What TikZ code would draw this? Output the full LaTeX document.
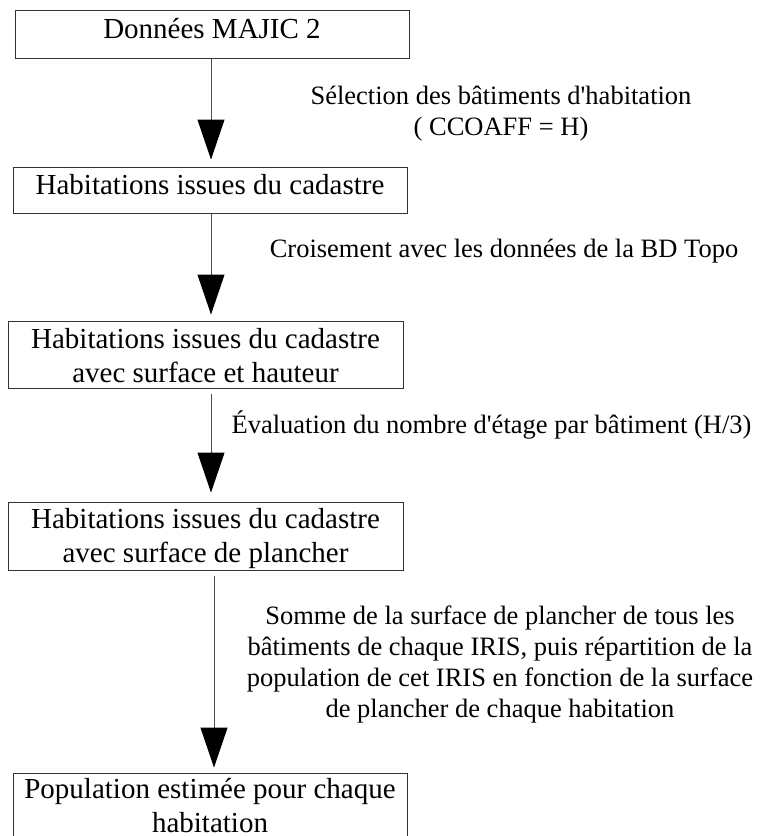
\documentclass[tikz,border=0pt]{standalone}
\usepackage{fontspec}
\setmainfont{Liberation Serif}
\usetikzlibrary{arrows.meta}
\newcommand\aq{\textquotesingle}
\newcommand\bs{\rule[-4pt]{0pt}{29pt}}
\newcommand\bt{\rule[-6pt]{0pt}{28pt}}
\newcommand\tp{\rule{0pt}{24pt}}
\begin{document}
\begin{tikzpicture}[x=1pt,y=-1pt,
  box/.style={draw=black!80, line width=1pt, inner sep=0pt, align=center,
    font=\fontsize{29}{34}\selectfont},
  onebox/.style={box, text height=18pt, text depth=10pt},
  lab/.style={inner sep=0pt, align=center, font=\fontsize{26.5}{31}\selectfont},
  flow/.style={draw=black!70, line width=1pt, -{Triangle[length=40pt,width=27pt,black]}}]
\useasboundingbox[fill=white] (0,0) rectangle (763,836);

\node[onebox, minimum width=394pt, minimum height=48pt] (b1) at (212,34) {Données MAJIC 2};
\node[onebox, minimum width=394pt, minimum height=46pt] (b2) at (210,190) {Habitations issues du cadastre};
\node[box, minimum width=395pt, minimum height=67pt] (b3) at (205.5,354.5)
  {\bs Habitations issues du cadastre\\\bs avec surface et hauteur};
\node[box, minimum width=395pt, minimum height=68pt] (b4) at (205.5,536)
  {\bs Habitations issues du cadastre\\\bs avec surface de plancher};
\node[box, minimum width=394pt, minimum height=68pt] (b5) at (210,807)
  {\bt Population estimée pour chaque\\\bt habitation};

\draw[flow] ([xshift=-1pt]b1.south) -- ([xshift=1pt,yshift=7pt]b2.north);
\draw[flow] ([xshift=1pt]b2.south) -- ([xshift=5.5pt,yshift=6pt]b3.north);
\draw[flow] ([xshift=5.5pt,yshift=-5pt]b3.south) -- ([xshift=5.5pt,yshift=9pt]b4.north);
\draw[flow] ([xshift=8.5pt,yshift=-5pt]b4.south) -- ([xshift=4pt,yshift=5pt]b5.north);

\node[lab, anchor=north] (l1) at (501,80)
  {\tp Sélection des bâtiments d\aq habitation\\( CCOAFF = H)};
\node[lab, anchor=base] (l2) at (504,257) {Croisement avec les données de la BD Topo};
\node[lab, anchor=base] (l3) at (491.5,433) {Évaluation du nombre d\aq étage par bâtiment (H/3)};
\node[lab, anchor=north] (l4) at (500,600)
  {\tp Somme de la surface de plancher de tous les\\
   bâtiments de chaque IRIS, puis répartition de la\\
   population de cet IRIS en fonction de la surface\\
   de plancher de chaque habitation};
\end{tikzpicture}
\end{document}
